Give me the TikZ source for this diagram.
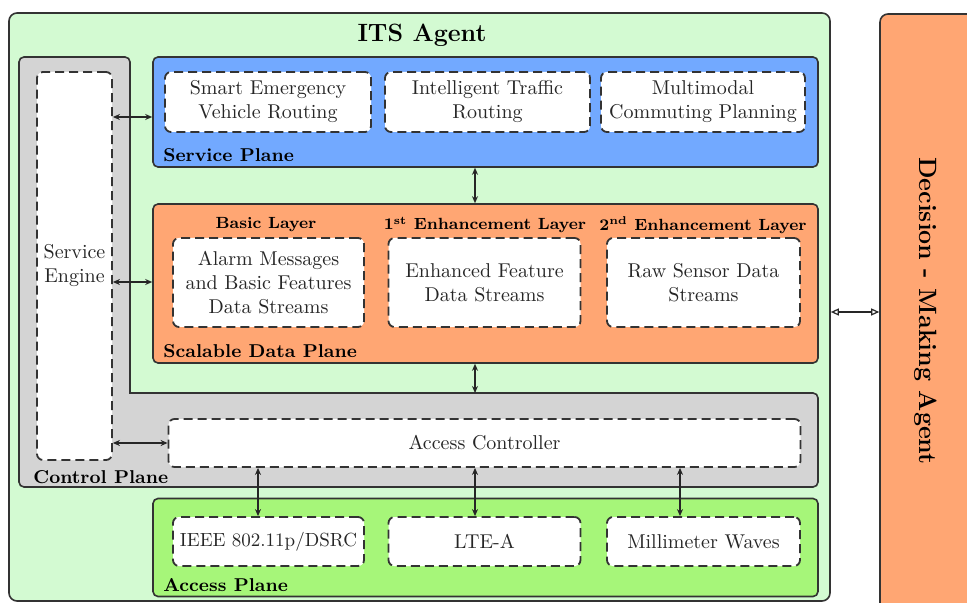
\documentclass[tikz,border=0pt]{standalone}
\usetikzlibrary{arrows.meta}
\definecolor{agentgreen}{RGB}{211,250,210}
\definecolor{ctrlgray}{RGB}{212,212,212}
\definecolor{serviceblue}{RGB}{114,169,255}
\definecolor{dataorange}{RGB}{255,166,115}
\definecolor{accessgreen}{RGB}{166,246,121}
\begin{document}
\begin{tikzpicture}[x=0.5pt,y=-0.5pt,
  planebox/.style={draw=black!80, line width=0.8pt, rounded corners=2.5pt, inner sep=0pt},
  dbox/.style={draw=black!80, fill=white, line width=0.9pt, dash pattern=on 4.5pt off 2.5pt,
    rounded corners=3pt, align=center, font=\fontsize{10}{12}\selectfont, text=black!85, inner sep=0pt},
  planelabel/.style={font=\fontsize{9.3}{11}\selectfont\bfseries, inner sep=0pt, anchor=west},
  layerlabel/.style={font=\fontsize{8.1}{10}\selectfont\bfseries, inner sep=0pt},
  biarrow/.style={{Stealth[length=3.5pt,width=3pt]}-{Stealth[length=3.5pt,width=3pt]}, line width=0.6pt, black!85},
  openarrow/.style={{Triangle[open,length=4pt,width=3.5pt]}-{Triangle[open,length=4pt,width=3.5pt]}, line width=0.6pt, black!85}]
\clip (0,0) rectangle (967,603);

% ITS agent frame and its title
\node[planebox, fill=agentgreen, rounded corners=4pt, minimum width=410.5pt, minimum height=294pt] (its) at (419.5,307) {};
\node[font=\fontsize{12.5}{14}\selectfont\bfseries] (title) at (422,35) {ITS Agent};

% Decision-making agent on the right
\node[planebox, fill=dataorange, rounded corners=4pt, minimum width=60pt, minimum height=313pt] (dm) at (940,327) {};
\node[rotate=-90, font=\fontsize{12.5}{14}\selectfont\bfseries] (dmtext) at (926,311) {Decision - Making Agent};

% Control plane (L-shaped)
\draw[draw=black!80, line width=0.8pt, fill=ctrlgray, rounded corners=2.5pt]
  (19,270) -- (19,57) -- (130,57) -- (130,300) [sharp corners] -- (130,393) -- (300,393)
  [rounded corners=2.5pt] -- (818,393) -- (818,487) -- (19,487) -- cycle;
\coordinate (ctop) at (475,393);
\node[planelabel] (cplabel) at (33,477) {Control Plane};

% Service engine
\node[dbox, minimum width=37.5pt, minimum height=194pt] (se) at (74.5,266) {Service\\Engine};

% Access controller
\node[dbox, minimum width=316pt, minimum height=24pt] (ac) at (484.5,443) {Access Controller};

% Service plane
\node[planebox, fill=serviceblue, minimum width=332.5pt, minimum height=55pt] (sp) at (485.5,112) {};
\node[planelabel] (splabel) at (163,155) {Service Plane};
\node[dbox, minimum width=103pt, minimum height=30pt] (s1) at (268,102) {Smart Emergency\\Vehicle Routing};
\node[dbox, minimum width=102.5pt, minimum height=30pt] (s2) at (487.5,102) {Intelligent Traffic\\Routing};
\node[dbox, minimum width=102pt, minimum height=30pt] (s3) at (703,102) {Multimodal\\Commuting Planning};

% Scalable data plane
\node[planebox, fill=dataorange, minimum width=332.5pt, minimum height=79.5pt] (dp) at (485.5,283.5) {};
\node[planelabel] (dplabel) at (163,351) {Scalable Data Plane};
\node[dbox, minimum width=95.5pt, minimum height=44.5pt] (l1) at (268.5,282.5) {Alarm Messages\\and Basic Features\\Data Streams};
\node[dbox, minimum width=96pt, minimum height=44.5pt] (l2) at (484.5,282.5) {Enhanced Feature\\Data Streams};
\node[dbox, minimum width=96.5pt, minimum height=44.5pt] (l3) at (703.5,282.5) {Raw Sensor Data\\Streams};
\node[layerlabel] (l1label) at (266,225) {Basic Layer};
\node[layerlabel] (l2label) at (485,225) {1\textsuperscript{st} Enhancement Layer};
\node[layerlabel] (l3label) at (703,225) {2\textsuperscript{nd} Enhancement Layer};

% Access plane
\node[planebox, fill=accessgreen, minimum width=332.5pt, minimum height=49pt] (ap) at (485.5,547.5) {};
\node[planelabel] (aplabel) at (163,585) {Access Plane};
\node[dbox, minimum width=95.5pt, minimum height=24.5pt, font=\fontsize{9.5}{12}\selectfont] (a1) at (268.5,541.5) {IEEE 802.11p/DSRC};
\node[dbox, minimum width=96pt, minimum height=24.5pt] (a2) at (484.5,541.5) {LTE-A};
\node[dbox, minimum width=96.5pt, minimum height=24.5pt] (a3) at (703.5,541.5) {Millimeter Waves};

% Connectors
\draw[biarrow] (se.east |- 0,117) -- (sp.west |- 0,117);
\draw[biarrow] (se.east |- 0,282) -- (dp.west |- 0,282);
\draw[biarrow] (se.east |- ac.west) -- (ac.west);
\draw[biarrow] (475,0 |- sp.south) -- (475,0 |- dp.north);
\draw[biarrow] (475,0 |- dp.south) -- (ctop);
\draw[biarrow] (258,0 |- ac.south) -- (258,0 |- a1.north);
\draw[biarrow] (475,0 |- ac.south) -- (475,0 |- a2.north);
\draw[biarrow] (680,0 |- ac.south) -- (680,0 |- a3.north);
\draw[openarrow] (its.east |- 0,312) -- (dm.west |- 0,312);
\end{tikzpicture}
\end{document}
